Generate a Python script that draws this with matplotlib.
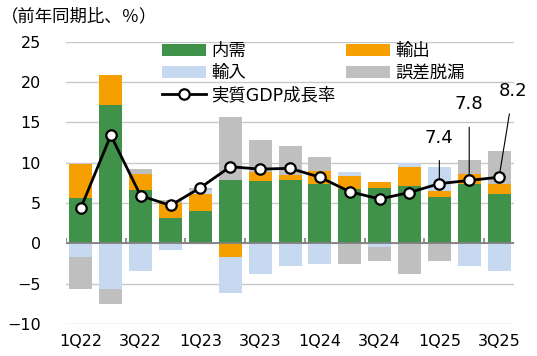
import numpy as np
import matplotlib
matplotlib.use("Agg")
import matplotlib.pyplot as plt

plt.rcParams['font.family'] = ['DejaVu Sans', 'Noto Sans CJK JP']

# Data (前年同期比寄与度, %)
quarters = ["1Q22", "2Q22", "3Q22", "4Q22", "1Q23", "2Q23", "3Q23", "4Q23",
            "1Q24", "2Q24", "3Q24", "4Q24", "1Q25", "2Q25", "3Q25"]
naiju = [5.6, 17.2, 6.6, 3.2, 4.0, 7.9, 7.7, 7.8, 7.3, 6.7, 6.85, 7.15, 5.8, 7.3, 6.1]
yushutsu = [4.2, 3.7, 2.0, 1.8, 2.1, -1.7, 1.1, 0.65, 1.7, 1.7, 0.7, 2.3, 0.7, 1.3, 1.25]
yunyu = [-1.7, -5.6, -3.4, -0.8, 0.5, -4.5, -3.8, -2.8, -2.6, 0.4, -0.4, 0.5, 2.95, -2.75, -3.4]
gosa = [-3.9, -1.9, 0.65, 0.4, 0.2, 7.75, 4.05, 3.65, 1.65, -2.6, -1.75, -3.8, -2.15, 1.75, 4.05]
gdp = [4.4, 13.4, 5.9, 4.7, 6.9, 9.5, 9.2, 9.3, 8.2, 6.4, 5.5, 6.3, 7.4, 7.8, 8.2]

fig = plt.figure(figsize=(5.37, 3.56), dpi=100)
ax = fig.add_axes([0.1229, 0.0899, 0.8343, 0.7930])

x = np.arange(len(quarters))
pos_base = np.zeros(len(x))
neg_base = np.zeros(len(x))

series = [(naiju, "内需", "#40914A"),
          (yushutsu, "輸出", "#F5A000"),
          (yunyu, "輸入", "#C6D9F1"),
          (gosa, "誤差脱漏", "#BFBFBF")]
bars = {}
for vals, name, col in series:
    v = np.array(vals)
    bottom = np.where(v >= 0, pos_base, neg_base)
    bars[name] = ax.bar(x, v, bottom=bottom, width=0.77, color=col, label=name, zorder=2)
    pos_base = pos_base + np.where(v >= 0, v, 0)
    neg_base = neg_base + np.where(v < 0, v, 0)

ax.axhline(0, color="#808080", lw=1.3, zorder=3)
# tick marks on the zero line every 2 quarters
ax.vlines(np.arange(-0.5, len(x) - 1, 2), 0, 0.65, color="#808080", lw=1.2, zorder=3)

line, = ax.plot(x, gdp, color="black", lw=2, marker="o", markersize=7.5,
                markerfacecolor="white", markeredgecolor="black", markeredgewidth=1.6,
                label="実質GDP成長率", zorder=5)

# labels for latest quarters
ann = [(12, (0, 46)), (13, (0, 76)), (14, (14, 86))]
for i, off in ann:
    ax.annotate(f"{gdp[i]:.1f}", xy=(x[i], gdp[i]), xytext=off, textcoords="offset pixels",
                ha="center", va="center", fontsize=13,
                arrowprops=dict(arrowstyle="-", color="black", lw=0.8, shrinkA=8, shrinkB=0))

ax.set_xlim(-0.5, len(x) - 0.5)
ax.set_ylim(-10, 25)
ax.set_yticks(np.arange(-10, 26, 5))
ax.set_xticks(x[::2])
ax.set_xticklabels(quarters[::2])
ax.tick_params(axis="both", length=0, labelsize=11.5)
ax.tick_params(axis="y", pad=18)
ax.tick_params(axis="x", pad=7)
ax.grid(axis="y", color="#C8C8C8", lw=1, zorder=0)
ax.set_axisbelow(True)
for s in ax.spines.values():
    s.set_visible(False)

handles = [bars["内需"], bars["輸入"], line, bars["輸出"], bars["誤差脱漏"]]
labels = ["内需", "輸入", "実質GDP成長率", "輸出", "誤差脱漏"]
ax.legend(handles, labels, ncol=2, loc="upper left", bbox_to_anchor=(0.18, 1.055),
          frameon=False, fontsize=12.5, handlelength=2.5, handleheight=0.7,
          labelspacing=0.25, columnspacing=0.65, handletextpad=0.3)

fig.text(0.002, 0.953, "（前年同期比、％）", fontsize=12.5, va="center", ha="left")

fig.savefig("out.png", dpi=100)
